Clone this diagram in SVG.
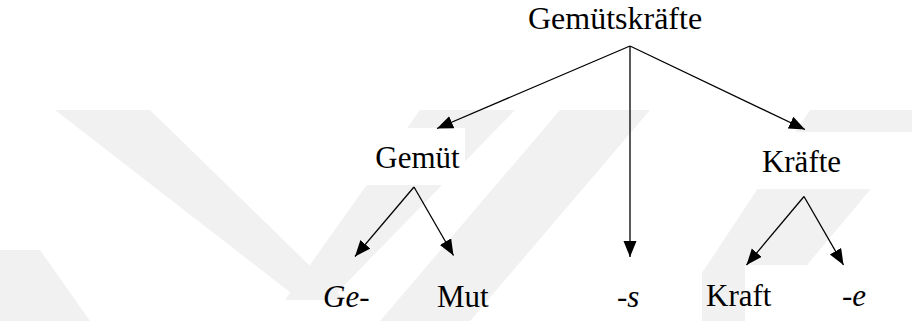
<svg xmlns="http://www.w3.org/2000/svg" width="912" height="321" viewBox="0 0 912 321">
  <style>
    .wm { fill: #f1f1f1; }
    .box { fill: #ffffff; }
    .edge { stroke: #000; stroke-width: 1.3; fill: none; marker-end: url(#ah); }
    text { font-family: 'Liberation Serif', 'Tinos', 'DejaVu Serif', 'Noto Serif', Times, serif; }
  </style>
  <defs>
    <marker id="ah" markerUnits="userSpaceOnUse" markerWidth="17" markerHeight="14" refX="16" refY="6.5" orient="auto">
      <path d="M0,0 L16,6.5 L0,13 z" fill="#000"/>
    </marker>
  </defs>

  <g id="watermark">
    <polygon class="wm" points="55,110 150,110 345,300 300,300"/>
    <polygon class="wm" points="420,110 515,110 330,300 285,300"/>
    <polygon class="wm" points="560,110 650,110 470,321 380,321"/>
    <polygon class="wm" points="810,110 912,110 912,140 760,321 670,321"/>
    <polygon class="wm" points="0,250 40,250 90,321 0,321"/>
  </g>

  <g id="boxes">
    <rect class="box" x="360" y="128" width="105" height="57"/>
    <rect class="box" x="742" y="132" width="170" height="57"/>
    <rect class="box" x="582" y="270" width="120" height="51"/>
    <rect class="box" x="745" y="265" width="167" height="56"/>
  </g>

  <g id="connectors">
    <line class="edge" x1="630" y1="46" x2="437" y2="128.5"/>
    <line class="edge" x1="630" y1="46" x2="630" y2="257"/>
    <line class="edge" x1="630" y1="46" x2="805" y2="129.5"/>
    <line class="edge" x1="414" y1="187" x2="355" y2="256.5"/>
    <line class="edge" x1="414" y1="187" x2="453.5" y2="255.5"/>
    <line class="edge" x1="804" y1="196.5" x2="746.5" y2="265"/>
    <line class="edge" x1="804" y1="196.5" x2="843.5" y2="265"/>
  </g>

  <g font-size="31" fill="#000">
    <g id="n-gemuetskraefte"><text x="615" y="29" text-anchor="middle" font-size="32">Gemütskräfte</text></g>
    <g id="n-gemuet"><text x="417.5" y="168" text-anchor="middle">Gemüt</text></g>
    <g id="n-kraefte"><text x="801.5" y="171.5" text-anchor="middle">Kräfte</text></g>
    <g id="n-ge"><text x="323" y="307"><tspan font-style="italic">Ge</tspan>-</text></g>
    <g id="n-mut"><text x="437" y="307">Mut</text></g>
    <g id="n-s"><text x="617" y="307">-<tspan font-style="italic">s</tspan></text></g>
    <g id="n-kraft"><text x="706" y="306">Kraft</text></g>
    <g id="n-e"><text x="842" y="306">-<tspan font-style="italic">e</tspan></text></g>
  </g>
</svg>
